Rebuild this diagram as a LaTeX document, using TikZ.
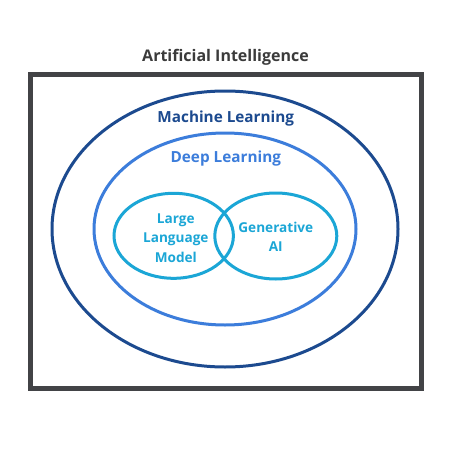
\documentclass[tikz,border=0pt]{standalone}
\usepackage{fontspec}
\setmainfont{Open Sans}
\newlength{\du}
\setlength{\du}{1pt}
\definecolor{framecolor}{rgb}{0.260000, 0.263000, 0.275000}
\definecolor{titlecolor}{rgb}{0.230000, 0.230000, 0.230000}
\definecolor{mlcolor}{rgb}{0.110000, 0.290000, 0.560000}
\definecolor{dlcolor}{rgb}{0.235000, 0.490000, 0.860000}
\definecolor{gencolor}{rgb}{0.105000, 0.650000, 0.840000}
\tikzset{
  ring/.style={line width=3\du},
  lbl/.style={font=\bfseries, align=center, inner sep=0pt},
}

\begin{document}
\begin{tikzpicture}
\pgftransformxscale{1.000000}
\pgftransformyscale{-1.000000}
\useasboundingbox (0\du,0\du) rectangle (452\du,452\du);
\fill[white] (0\du,0\du) rectangle (452\du,452\du);
% frame
\draw[framecolor, line width=5\du] (30.500000\du,74.000000\du) rectangle (421.500000\du,388.500000\du);
\node[lbl, text=titlecolor, font=\bfseries\fontsize{16}{18}\selectfont] (ai) at (225.500000\du,57.000000\du){Artificial Intelligence};
% rings
\draw[ring, mlcolor] (225.000000\du,229.000000\du) ellipse [x radius=173.000000\du, y radius=138.000000\du];
\draw[ring, dlcolor] (225.000000\du,229.000000\du) ellipse [x radius=131.000000\du, y radius=96.000000\du];
\draw[ring, gencolor] (173.700000\du,235.800000\du) ellipse [x radius=59.700000\du, y radius=42.500000\du];
\draw[ring, gencolor] (275.800000\du,236.000000\du) ellipse [x radius=61.000000\du, y radius=43.000000\du];
% labels
\node[lbl, text=mlcolor, font=\bfseries\fontsize{15.3}{18}\selectfont] (ml) at (225.800000\du,119.000000\du){Machine Learning};
\node[lbl, text=dlcolor, font=\bfseries\fontsize{15.3}{18}\selectfont] (dl) at (225.800000\du,159.000000\du){Deep Learning};
\node[lbl, text=gencolor, font=\bfseries\fontsize{13.6}{19.5}\selectfont] (llm) at (175.800000\du,238.000000\du){Large\\Language\\Model};
\node[lbl, text=gencolor, font=\bfseries\fontsize{13.6}{19}\selectfont] (gen) at (275.800000\du,237.000000\du){Generative\\AI};
\end{tikzpicture}
\end{document}
